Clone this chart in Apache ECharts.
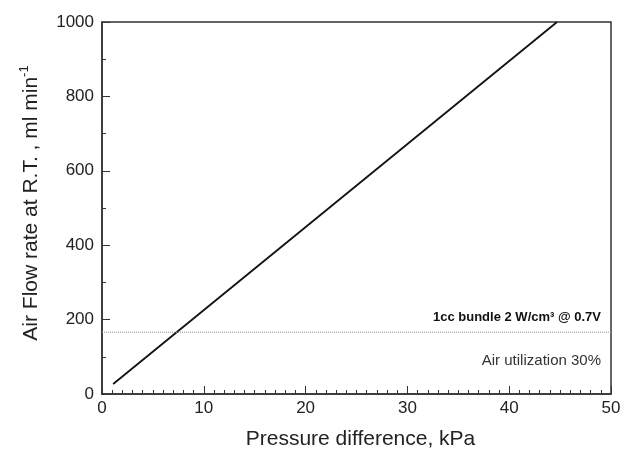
<!DOCTYPE html>
<html>
<head>
    <meta charset="UTF-8">
    <title>Air flow rate vs pressure difference</title>
    <script src="https://cdn.jsdelivr.net/npm/echarts@6/dist/echarts.min.js"></script>
    <style>
        html, body { margin: 0; padding: 0; background: #fff; }
        #main { width: 635px; height: 455px; }
    </style>
</head>
<body>
<div id="main"></div>
<script type="text/javascript">
    // 读图得到的数据
    var flowLine = [[1.1, 27], [44.7, 1000]];
    var designLine = [[0, 166], [50, 166]];
    var xTicks = [0, 10, 20, 30, 40, 50];
    var yTicks = [0, 200, 400, 600, 800, 1000];
    var noteTop = '1cc bundle 2 W/cm³ @ 0.7V';
    var noteBottom = 'Air utilization 30%';

    var chartDom = document.getElementById('main');
    var myChart = echarts.init(chartDom);
    var font = 'Liberation Sans, Arial, sans-serif';

    var option = {
        animation: false,
        backgroundColor: '#fff',
        grid: {
            left: 102, right: 24, top: 22, bottom: 60,
            show: true, borderColor: '#333', borderWidth: 1.5,
            backgroundColor: 'transparent'
        },
        xAxis: {
            type: 'value',
            min: xTicks[0], max: xTicks[xTicks.length - 1], interval: 10,
            name: 'Pressure difference, kPa',
            nameLocation: 'middle', nameGap: 35,
            nameTextStyle: { fontFamily: font, fontSize: 21, color: '#222', padding: [0, 0, 0, 8] },
            axisLine: { show: true, onZero: false, lineStyle: { color: '#333', width: 1.5 } },
            axisTick: { show: true, inside: true, length: 8, lineStyle: { color: '#333' } },
            minorTick: { show: true, splitNumber: 10, length: 4, lineStyle: { color: '#333' } },
            axisLabel: { fontFamily: font, fontSize: 17, color: '#222', margin: 6 },
            splitLine: { show: false }
        },
        yAxis: {
            type: 'value',
            min: yTicks[0], max: yTicks[yTicks.length - 1], interval: 200,
            name: '{a|Air Flow rate at R.T. , ml min}{s|-1}',
            nameLocation: 'middle', nameGap: 58, nameRotate: 90,
            nameTextStyle: {
                fontFamily: font, fontSize: 21, color: '#222',
                padding: [0, 0, 0, 10],
                rich: {
                    a: { fontFamily: font, fontSize: 21, color: '#222', lineHeight: 26 },
                    s: { fontFamily: font, fontSize: 13, color: '#222', lineHeight: 26, verticalAlign: 'top', padding: [0, 0, 10, 0] }
                }
            },
            axisLine: { show: true, onZero: false, lineStyle: { color: '#333', width: 1.5 } },
            axisTick: { show: true, inside: true, length: 8, lineStyle: { color: '#333' } },
            minorTick: { show: true, splitNumber: 2, length: 4, lineStyle: { color: '#333' } },
            axisLabel: {
                fontFamily: font, fontSize: 17, color: '#222', margin: 8,
                formatter: function (v) { return String(v); }
            },
            splitLine: { show: false }
        },
        series: [
            {
                type: 'line',
                data: flowLine,
                showSymbol: false,
                lineStyle: { color: '#111', width: 1.8 }
            },
            {
                type: 'line',
                data: designLine,
                showSymbol: false,
                lineStyle: { color: '#999', width: 1, type: [1, 1] }
            }
        ],
        graphic: [
            {
                type: 'text', right: 34, top: 311,
                style: { text: noteTop, font: 'bold 13px ' + font, fill: '#111', textAlign: 'right' }
            },
            {
                type: 'text', right: 34, top: 353,
                style: { text: noteBottom, font: '15px ' + font, fill: '#333', textAlign: 'right' }
            }
        ]
    };

    option && myChart.setOption(option);
</script>
</body>
</html>
